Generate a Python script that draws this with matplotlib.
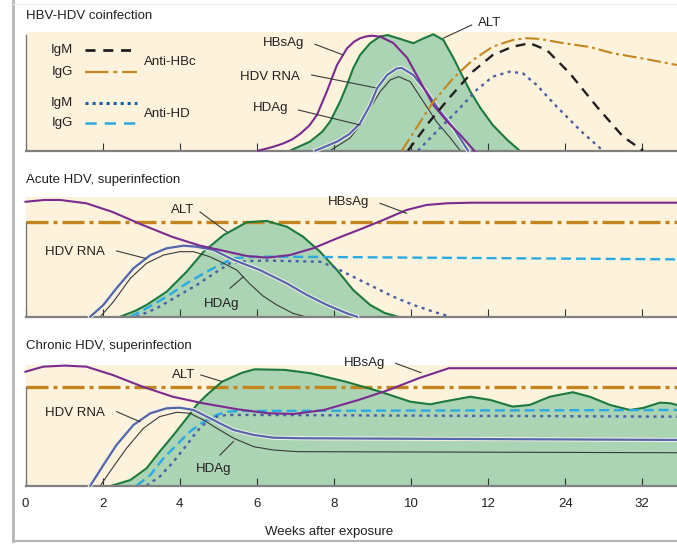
import matplotlib
matplotlib.use("Agg")
import matplotlib.pyplot as plt
import matplotlib.patheffects as pe
from matplotlib.lines import Line2D

plt.rcParams["font.family"] = ["Liberation Sans", "DejaVu Sans"]

# x = position of the week tick (0..8), y = relative level (0 = axis, 1 = top of panel)
WEEK_LABELS = ["0", "2", "4", "6", "8", "10", "12", "24", "32"]
XMAX = 8.45

# ---- panel 1: HBV-HDV coinfection ----
co_hbsag_x = [3.02, 3.20, 3.34, 3.46, 3.56, 3.68, 3.78, 3.91, 4.04, 4.17, 4.26, 4.34, 4.42, 4.49, 4.60, 4.77, 4.95, 5.12, 5.29, 5.47, 5.64, 5.82]
co_hbsag_y = [0.00, 0.03, 0.06, 0.095, 0.14, 0.21, 0.30, 0.50, 0.72, 0.86, 0.915, 0.945, 0.960, 0.966, 0.958, 0.905, 0.78, 0.58, 0.384, 0.244, 0.132, 0.00]
co_alt_x = [3.43, 3.69, 3.85, 3.95, 4.08, 4.17, 4.25, 4.34, 4.47, 4.60, 4.70, 4.86, 5.03, 5.16, 5.29, 5.42, 5.55, 5.68, 5.77, 5.90, 6.06, 6.25, 6.41]
co_alt_y = [0.00, 0.076, 0.16, 0.244, 0.412, 0.552, 0.692, 0.804, 0.903, 0.960, 0.971, 0.939, 0.903, 0.943, 0.978, 0.930, 0.779, 0.611, 0.496, 0.359, 0.216, 0.090, 0.00]
co_rna_x = [3.76, 4.04, 4.20, 4.34, 4.47, 4.56, 4.69, 4.82, 4.88, 5.03, 5.20, 5.38, 5.55, 5.74]
co_rna_y = [0.00, 0.076, 0.14, 0.230, 0.384, 0.524, 0.636, 0.692, 0.695, 0.636, 0.496, 0.328, 0.191, 0.00]
co_hdag_x = [3.95, 4.21, 4.34, 4.47, 4.60, 4.73, 4.84, 4.99, 5.16, 5.33, 5.51, 5.64]
co_hdag_y = [0.00, 0.107, 0.216, 0.359, 0.496, 0.594, 0.622, 0.580, 0.412, 0.244, 0.107, 0.00]
co_hbc_igg_x = [4.88, 5.07, 5.29, 5.55, 5.80, 6.06, 6.32, 6.50, 6.67, 6.98, 7.32, 7.62, 7.97, 8.45]
co_hbc_igg_y = [0.00, 0.191, 0.412, 0.611, 0.761, 0.874, 0.930, 0.945, 0.939, 0.903, 0.871, 0.818, 0.779, 0.720]
co_hbc_igm_x = [4.96, 5.24, 5.51, 5.80, 6.06, 6.32, 6.54, 6.76, 7.06, 7.41, 7.75, 8.01]
co_hbc_igm_y = [0.00, 0.244, 0.454, 0.664, 0.804, 0.874, 0.903, 0.846, 0.650, 0.370, 0.118, 0.00]
co_hd_igm_x = [5.09, 5.33, 5.59, 5.85, 6.06, 6.28, 6.45, 6.63, 6.89, 7.23, 7.49]
co_hd_igm_y = [0.00, 0.160, 0.328, 0.510, 0.622, 0.664, 0.650, 0.552, 0.370, 0.149, 0.00]

# ---- panel 2: acute HDV, superinfection ----
ac_alt_x = [1.23, 1.42, 1.57, 1.83, 2.09, 2.31, 2.57, 2.87, 3.13, 3.39, 3.60, 3.82, 4.04, 4.25, 4.47, 4.66, 4.83]
ac_alt_y = [0.00, 0.048, 0.098, 0.208, 0.375, 0.542, 0.681, 0.787, 0.798, 0.750, 0.667, 0.542, 0.389, 0.223, 0.098, 0.031, 0.00]
ac_hbsag_x = [0.00, 0.25, 0.45, 0.79, 1.12, 1.52, 1.91, 2.26, 2.52, 2.87, 3.13, 3.43, 3.73, 4.04, 4.34, 4.64, 4.94, 5.20, 5.46, 5.77, 8.45]
ac_hbsag_y = [0.958, 0.973, 0.973, 0.945, 0.875, 0.764, 0.664, 0.593, 0.556, 0.506, 0.492, 0.514, 0.570, 0.653, 0.728, 0.806, 0.889, 0.931, 0.945, 0.950, 0.950]
ac_rna_x = [0.84, 1.01, 1.18, 1.40, 1.62, 1.83, 2.05, 2.22, 2.44, 2.70, 3.04, 3.39, 3.65, 3.91, 4.17, 4.30]
ac_rna_y = [0.00, 0.098, 0.237, 0.403, 0.514, 0.570, 0.592, 0.583, 0.556, 0.473, 0.389, 0.278, 0.181, 0.098, 0.028, 0.00]
ac_hdag_x = [0.97, 1.14, 1.36, 1.57, 1.79, 2.00, 2.18, 2.39, 2.57, 2.74, 2.91, 3.08, 3.26, 3.47, 3.63]
ac_hdag_y = [0.00, 0.125, 0.320, 0.445, 0.514, 0.542, 0.542, 0.500, 0.445, 0.389, 0.273, 0.173, 0.098, 0.028, 0.00]
ac_hd_igg_x = [1.36, 1.57, 1.83, 2.09, 2.35, 2.52, 2.70, 2.96, 3.30, 8.45]
ac_hd_igg_y = [0.00, 0.070, 0.167, 0.278, 0.375, 0.431, 0.487, 0.500, 0.500, 0.478]
ac_hd_igm_x = [1.44, 1.70, 1.96, 2.22, 2.48, 2.65, 2.87, 3.13, 3.82, 3.99, 4.25, 4.51, 4.77, 5.03, 5.29, 5.51]
ac_hd_igm_y = [0.00, 0.070, 0.167, 0.264, 0.375, 0.445, 0.464, 0.468, 0.458, 0.417, 0.333, 0.250, 0.167, 0.098, 0.042, 0.00]
ac_hbc_igg_x = [0.0, 8.45]
ac_hbc_igg_y = [0.789, 0.789]

# ---- panel 3: chronic HDV, superinfection ----
ch_alt_x = [1.12, 1.36, 1.57, 1.74, 1.92, 2.09, 2.22, 2.35, 2.55, 2.81, 2.97, 3.37, 3.70, 4.15, 4.60, 4.99, 5.25, 5.42,
            5.77, 6.03, 6.32, 6.54, 6.80, 7.10, 7.32, 7.58, 7.84, 8.01, 8.23, 8.36, 8.45]
ch_alt_y = [0.00, 0.047, 0.144, 0.282, 0.420, 0.558, 0.669, 0.751, 0.862, 0.936, 0.964, 0.959, 0.931, 0.862, 0.779, 0.696, 0.674, 0.696,
            0.737, 0.710, 0.655, 0.669, 0.737, 0.774, 0.737, 0.669, 0.627, 0.644, 0.688, 0.683, 0.669]
ch_hbsag_x = [0.00, 0.23, 0.51, 0.79, 1.13, 1.52, 1.91, 2.30, 2.75, 3.14, 3.48, 3.87, 4.32, 4.71, 5.10, 5.49, 8.45]
ch_hbsag_y = [0.944, 0.986, 0.995, 0.986, 0.917, 0.820, 0.737, 0.683, 0.633, 0.600, 0.594, 0.627, 0.710, 0.793, 0.890, 0.973, 0.973]
ch_rna_x = [0.84, 1.01, 1.18, 1.40, 1.62, 1.83, 2.00, 2.18, 2.35, 2.52, 2.70, 2.96, 3.21, 3.56, 8.45]
ch_rna_y = [0.00, 0.171, 0.337, 0.503, 0.600, 0.641, 0.646, 0.627, 0.572, 0.517, 0.461, 0.420, 0.398, 0.393, 0.379]
ch_hdag_x = [0.97, 1.14, 1.31, 1.53, 1.74, 1.96, 2.13, 2.31, 2.48, 2.70, 2.96, 3.21, 3.52, 8.45]
ch_hdag_y = [0.00, 0.157, 0.310, 0.476, 0.572, 0.608, 0.600, 0.544, 0.476, 0.393, 0.323, 0.296, 0.282, 0.273]
ch_hd_igg_x = [1.44, 1.62, 1.79, 1.96, 2.13, 2.31, 2.48, 2.61, 2.78, 8.45]
ch_hd_igg_y = [0.00, 0.089, 0.227, 0.337, 0.447, 0.530, 0.586, 0.613, 0.619, 0.627]
ch_hd_igm_x = [1.57, 1.74, 1.92, 2.09, 2.22, 2.35, 2.48, 2.61, 2.78, 8.45]
ch_hd_igm_y = [0.00, 0.075, 0.199, 0.337, 0.447, 0.530, 0.572, 0.586, 0.586, 0.572]
ch_hbc_igg_x = [0.0, 8.45]
ch_hbc_igg_y = [0.814, 0.814]

BG = "#fdf3dd"
FILL = "#aad4b3"
GREEN = "#1b7a3c"
PURPLE = "#7b2b90"
BLUE = "#5467ad"
HDAG = "#3a3a3a"
GOLD = "#c3861f"
BLACK = "#231f20"
LBLUE = "#2aaae2"
DOTBLUE = "#4c5ea5"
TXT = "#231f20"
LEAD = "#3a3a3a"

DASH_IGM_HBC = (0, (4.2, 3.0))
DASH_IGG_HBC = (0, (6.7, 1.9, 1.4, 1.9))
DASH_FLAT_HBC = (0, (6.6, 1.5, 1.2, 1.5))
DASH_IGG_HD = (0, (4.2, 2.1))
DASH_IGM_HD = (0, (1.3, 1.9))

FS = 9.5

fig = plt.figure(figsize=(6.77, 5.44), dpi=100)
fig.patch.set_facecolor("white")
left = 25.5 / 677
ax1 = fig.add_axes([left, 0.7230, 1 - left, 0.2188])
ax2 = fig.add_axes([left, 0.4178, 1 - left, 0.2206])
ax3 = fig.add_axes([left, 0.1072, 1 - left, 0.2219])


def setup(ax, spine_top, title, title_y, labels=False):
    ax.set_facecolor(BG)
    ax.set_xlim(0, XMAX)
    ax.set_ylim(0, 1)
    ax.spines["top"].set_visible(False)
    ax.spines["right"].set_visible(False)
    ax.spines["bottom"].set_color("#808080")
    ax.spines["bottom"].set_linewidth(1.6)
    ax.spines["left"].set_color("#707070")
    ax.spines["left"].set_linewidth(0.9)
    ax.spines["left"].set_bounds(0, spine_top)
    ax.set_yticks([])
    ax.set_xticks(range(len(WEEK_LABELS)))
    ax.tick_params(axis="x", direction="in", length=5.8, width=0.8, color="#333333",
                   pad=9, labelsize=FS, labelcolor=TXT)
    ax.set_xticklabels(WEEK_LABELS if labels else [])
    ax.text(0, title_y, title, transform=ax.transAxes, ha="left", va="center",
            fontsize=FS, color=TXT)


def alt(ax, x, y):
    ax.fill_between(x, y, 0, color=FILL, lw=0, zorder=1)
    ax.plot(x, y, color=GREEN, lw=1.5, zorder=2.2, clip_on=False, solid_joinstyle="round")


def rna(ax, x, y):
    ax.plot(x, y, color=BLUE, lw=1.6, zorder=2.6, clip_on=False, solid_joinstyle="round",
            path_effects=[pe.Stroke(linewidth=3.0, foreground="#f5f1e3"), pe.Normal()])


def hdag(ax, x, y):
    ax.plot(x, y, color=HDAG, lw=0.8, zorder=2.5, clip_on=False, solid_joinstyle="round")


def hbsag(ax, x, y):
    ax.plot(x, y, color=PURPLE, lw=1.5, zorder=2.8, clip_on=False, solid_joinstyle="round")


def label(ax, txt, tx, ty, ha, x1, y1, x2, y2):
    ax.text(tx, ty, txt, ha=ha, va="center", fontsize=FS, color=TXT, zorder=5, clip_on=False)
    ax.plot([x1, x2], [y1, y2], color=LEAD, lw=0.8, zorder=4, clip_on=False)


# ---------------- panel 1 ----------------
setup(ax1, 0.97, "HBV-HDV coinfection", 1.135)
alt(ax1, co_alt_x, co_alt_y)
hdag(ax1, co_hdag_x, co_hdag_y)
rna(ax1, co_rna_x, co_rna_y)
hbsag(ax1, co_hbsag_x, co_hbsag_y)
ax1.plot(co_hbc_igg_x, co_hbc_igg_y, color=GOLD, lw=1.5, ls=DASH_IGG_HBC, zorder=3)
ax1.plot(co_hbc_igm_x, co_hbc_igm_y, color=BLACK, lw=1.7, ls=DASH_IGM_HBC, zorder=3)
ax1.plot(co_hd_igm_x, co_hd_igm_y, color=DOTBLUE, lw=1.7, ls=DASH_IGM_HD, zorder=3)

# legend block
for ty, txt in [(0.846, "IgM"), (0.661, "IgG"), (0.401, "IgM"), (0.233, "IgG")]:
    ax1.text(0.616, ty, txt, ha="right", va="center", fontsize=FS, color=TXT)
ax1.plot([0.772, 1.446], [0.846, 0.846], color=BLACK, lw=2.0, ls=(0, (3.6, 2.8)))
ax1.plot([0.772, 1.446], [0.661, 0.661], color=GOLD, lw=1.6, ls=(0, (10.5, 2.2, 1.8, 2.2)))
ax1.plot([0.772, 1.446], [0.401, 0.401], color="#1a5e9e", lw=2.2, ls=(0, (1.0, 1.3)))
ax1.plot([0.772, 1.446], [0.233, 0.233], color=LBLUE, lw=1.8, ls=(0, (4.5, 3.2)))
ax1.text(1.537, 0.745, "Anti-HBc", ha="left", va="center", fontsize=FS, color=TXT)
ax1.text(1.537, 0.308, "Anti-HD", ha="left", va="center", fontsize=FS, color=TXT)

label(ax1, "HBsAg", 3.353, 0.903, "center", 3.755, 0.894, 4.122, 0.804)
label(ax1, "HDV RNA", 3.560, 0.622, "right", 3.712, 0.636, 4.533, 0.529)
label(ax1, "HDAg", 3.405, 0.356, "right", 3.538, 0.342, 4.339, 0.216)
label(ax1, "ALT", 5.869, 1.073, "left", 5.787, 1.056, 5.419, 0.945)

# ---------------- panel 2 ----------------
setup(ax2, 0.789, "Acute HDV, superinfection", 1.14)
ax2.plot(ac_hbc_igg_x, ac_hbc_igg_y, color=GOLD, lw=2.4, ls=DASH_FLAT_HBC, zorder=1.6)
alt(ax2, ac_alt_x, ac_alt_y)
ax2.plot(ac_hd_igg_x, ac_hd_igg_y, color=LBLUE, lw=1.7, ls=DASH_IGG_HD, zorder=2.4)
ax2.plot(ac_hd_igm_x, ac_hd_igm_y, color=DOTBLUE, lw=1.7, ls=DASH_IGM_HD, zorder=2.4)
hdag(ax2, ac_hdag_x, ac_hdag_y)
rna(ax2, ac_rna_x, ac_rna_y)
hbsag(ax2, ac_hbsag_x, ac_hbsag_y)

label(ax2, "ALT", 2.043, 0.889, "center", 2.263, 0.873, 2.610, 0.708)
label(ax2, "HBsAg", 4.196, 0.958, "center", 4.598, 0.945, 4.944, 0.862)
label(ax2, "HDV RNA", 1.031, 0.537, "right", 1.183, 0.548, 1.550, 0.487)
label(ax2, "HDAg", 2.542, 0.106, "center", 2.652, 0.237, 2.825, 0.333)

# ---------------- panel 3 ----------------
setup(ax3, 0.814, "Chronic HDV, superinfection", 1.16, labels=True)
alt(ax3, ch_alt_x, ch_alt_y)
ax3.plot(ch_hbc_igg_x, ch_hbc_igg_y, color=GOLD, lw=2.4, ls=DASH_FLAT_HBC, zorder=1.6)
ax3.plot(ch_hd_igg_x, ch_hd_igg_y, color=LBLUE, lw=1.7, ls=DASH_IGG_HD, zorder=2.4)
ax3.plot(ch_hd_igm_x, ch_hd_igm_y, color=DOTBLUE, lw=1.7, ls=DASH_IGM_HD, zorder=2.4)
hdag(ax3, ch_hdag_x, ch_hdag_y)
rna(ax3, ch_rna_x, ch_rna_y)
hbsag(ax3, ch_hbsag_x, ch_hbsag_y)

label(ax3, "ALT", 2.049, 0.917, "center", 2.274, 0.917, 2.554, 0.862)
label(ax3, "HBsAg", 4.403, 1.014, "center", 4.799, 1.014, 5.130, 0.936)
label(ax3, "HDV RNA", 1.031, 0.600, "right", 1.183, 0.613, 1.485, 0.530)
label(ax3, "HDAg", 2.445, 0.138, "center", 2.523, 0.254, 2.695, 0.365)

fig.text(329 / 677, 1 - 532 / 544, "Weeks after exposure", ha="center", va="center",
         fontsize=FS, color=TXT)

# page frame
fx = 13 / 677
fig.add_artist(Line2D([fx, fx], [3 / 544, 1], transform=fig.transFigure, color="#b5b5b5", lw=2))
fig.add_artist(Line2D([fx, 1], [3 / 544, 3 / 544], transform=fig.transFigure, color="#b5b5b5", lw=1.5))
fig.add_artist(Line2D([fx, 1], [1 - 4 / 544, 1 - 4 / 544], transform=fig.transFigure, color="#ececec", lw=1))

fig.savefig("out.png", dpi=100)
